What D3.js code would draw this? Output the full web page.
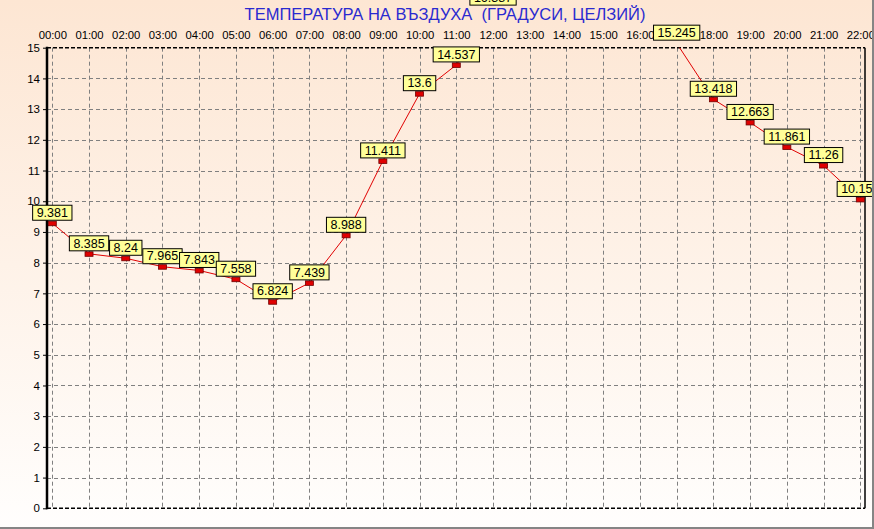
<!DOCTYPE html>
<html><head><meta charset="utf-8">
<script src="https://cdn.jsdelivr.net/npm/d3@7"></script>
<style>html,body{margin:0;padding:0;background:#fff;}svg{display:block;}</style>
</head><body>
<svg id="c" width="874" height="529"></svg>
<script>
const hours = ["00:00","01:00","02:00","03:00","04:00","05:00","06:00","07:00","08:00","09:00","10:00","11:00","12:00","13:00","14:00","15:00","16:00","17:00","18:00","19:00","20:00","21:00","22:00"];
const temps = [9.381, 8.385, 8.24, 7.965, 7.843, 7.558, 6.824, 7.439, 8.988, 11.411, 13.6, 14.537, 16.387, 17.1, 17.6, 17.4, 16.9, 15.245, 13.418, 12.663, 11.861, 11.26, 10.156];
const yTicks = [0,1,2,3,4,5,6,7,8,9,10,11,12,13,14,15];
const title = "ТЕМПЕРАТУРА НА ВЪЗДУХА  (ГРАДУСИ, ЦЕЛЗИЙ)";

const W = 874, H = 529;
const pL = 47, pR = 865, pT = 47.7, pB = 508.3;
const svg = d3.select("#c");
const font = "'Liberation Sans', Arial, sans-serif";

const defs = svg.append("defs");
const grad = defs.append("linearGradient").attr("id","bg").attr("x1",0).attr("y1",0).attr("x2",0).attr("y2",1);
grad.append("stop").attr("offset","0%").attr("stop-color","#fde6d3");
grad.append("stop").attr("offset","100%").attr("stop-color","#fffefd");
defs.append("clipPath").attr("id","plotclip").append("rect")
  .attr("x",pL).attr("y",pT).attr("width",pR-pL).attr("height",pB-pT);

svg.append("rect").attr("width",W).attr("height",H).attr("fill","url(#bg)");

const x = d3.scalePoint().domain(hours).range([52.3, 860.3]);
const y = d3.scaleLinear().domain([0,15]).range([pB, pT]);

// grid
const grid = svg.append("g").attr("stroke","#808080").attr("stroke-width",1).attr("stroke-dasharray","4,3").attr("fill","none");
grid.selectAll("line.h").data(yTicks.filter(d=>d>0 && d<15)).join("line").attr("class","h")
  .attr("x1",pL).attr("x2",pR).attr("y1",d=>Math.round(y(d))+0.5).attr("y2",d=>Math.round(y(d))+0.5);
grid.selectAll("line.v").data(hours).join("line").attr("class","v")
  .attr("x1",d=>Math.round(x(d))+0.5).attr("x2",d=>Math.round(x(d))+0.5).attr("y1",pT).attr("y2",pB);

// borders
svg.append("line").attr("x1",pL).attr("x2",pR).attr("y1",pT).attr("y2",pT)
  .attr("stroke","#000").attr("stroke-width",1.5).attr("stroke-dasharray","4,2");
svg.append("line").attr("x1",pL).attr("x2",pR).attr("y1",pB).attr("y2",pB)
  .attr("stroke","#000").attr("stroke-width",1.5).attr("stroke-dasharray","4,2");
svg.append("line").attr("x1",pR).attr("x2",pR).attr("y1",pT).attr("y2",pB)
  .attr("stroke","#000").attr("stroke-width",1.5);

// y axis
const yAxis = d3.axisLeft(y).tickValues(yTicks).tickSize(4).tickPadding(3).tickFormat(d3.format("d"));
const ya = svg.append("g").attr("transform",`translate(${pL},0)`).call(yAxis);
ya.select(".domain").remove();
ya.selectAll(".tick line").attr("stroke","#000");
ya.selectAll(".tick text").attr("font-family",font).attr("font-size",11.5).attr("fill","#000");
svg.append("line").attr("x1",pL).attr("x2",pL).attr("y1",pT-1).attr("y2",pB+1)
  .attr("stroke","#000").attr("stroke-width",2.5);

// x axis labels on top
const xAxis = d3.axisTop(x).tickSize(0).tickPadding(0);
const xa = svg.append("g").attr("transform",`translate(0,38.5)`).call(xAxis);
xa.select(".domain").remove();
xa.selectAll(".tick text").attr("font-family",font).attr("font-size",11.3).attr("fill","#000");

// title
svg.append("text").attr("x",445).attr("y",20).attr("text-anchor","middle")
  .style("white-space","pre")
  .attr("font-family",font).attr("font-size",16.5).attr("fill","#2a2ad0").text(title);

// line + markers
const off = 3;
const data = hours.map((h,i)=>({h, v: temps[i]}));
const plot = svg.append("g").attr("clip-path","url(#plotclip)");
plot.append("path").datum(data)
  .attr("d", d3.line().x(d=>x(d.h)).y(d=>y(d.v)+off))
  .attr("fill","none").attr("stroke","#e00000").attr("stroke-width",1);
plot.selectAll("rect.m").data(data).join("rect").attr("class","m")
  .attr("x",d=>x(d.h)-4).attr("y",d=>y(d.v)+off-2).attr("width",8).attr("height",4.5)
  .attr("fill","#e00000").attr("stroke","#700000").attr("stroke-width",0.8);

// value labels (labels lying wholly above the picture are not drawn, as in the source)
const lab = svg.append("g");
data.filter(d => y(d.v) > 0).forEach(d=>{
  const gg = lab.append("g");
  const t = gg.append("text").attr("x",x(d.h)).attr("y",y(d.v)-3.3).attr("text-anchor","middle")
    .attr("font-family",font).attr("font-size",12.5).attr("fill","#000").text(String(d.v));
  const bb = t.node().getBBox();
  const wBox = bb.width + 8;
  gg.insert("rect","text").attr("x",x(d.h)-wBox/2).attr("y",y(d.v)-15).attr("width",wBox).attr("height",15)
    .attr("fill","#ffff99").attr("stroke","#000").attr("stroke-width",1);
});

// outer frame
svg.append("line").attr("x1",0).attr("x2",W).attr("y1",528).attr("y2",528).attr("stroke","#858585").attr("stroke-width",2);
svg.append("line").attr("x1",873).attr("x2",873).attr("y1",0).attr("y2",H).attr("stroke","#858585").attr("stroke-width",2);
</script>
</body></html>
